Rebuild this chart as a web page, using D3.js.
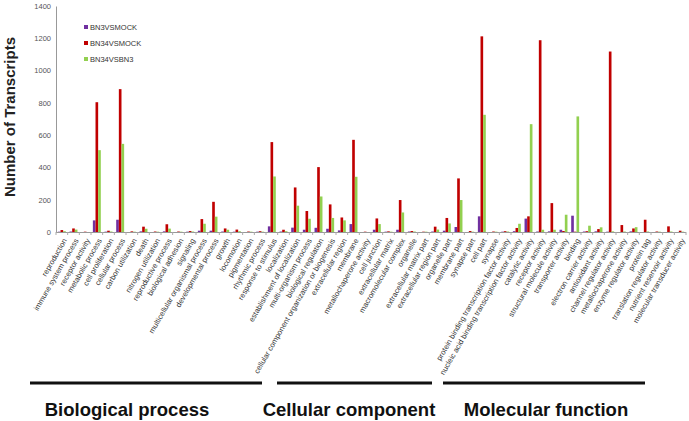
<!DOCTYPE html>
<html>
<head>
<meta charset="utf-8">
<script src="https://cdn.jsdelivr.net/npm/d3@7"></script>
<style>
  body { margin: 0; background: #fff; }
  svg { display: block; font-family: "Liberation Sans", Arial, sans-serif; }
</style>
</head>
<body>
<svg id="chart" width="689" height="421"></svg>
<script>
const categories = [
  'reproduction', 'immune system process', 'receptor activity', 'metabolic process',
  'cell proliferation', 'cellular process', 'carbon utilization', 'death',
  'nitrogen utilization', 'reproductive process', 'biological adhesion', 'signaling',
  'multicellular organismal process', 'developmental process', 'growth', 'locomotion',
  'pigmentation', 'rhythmic process', 'response to stimulus', 'localization',
  'establishment of localization', 'multi-organism process', 'biological regulation',
  'cellular component organization or biogenesis', 'extracellular region', 'membrane',
  'metallochaperone activity', 'cell junction', 'extracellular matrix',
  'macromolecular complex', 'organelle', 'extracellular matrix part',
  'extracellular region part', 'organelle part', 'membrane part', 'synapse part',
  'cell part', 'synapse', 'protein binding transcription factor activity',
  'nucleic acid binding transcription factor activity', 'catalytic activity',
  'receptor activity', 'structural molecule activity', 'transporter activity', 'binding',
  'electron carrier activity', 'antioxidant activity', 'channel regulator activity',
  'metallochaperone activity', 'enzyme regulator activity', 'protein tag',
  'translation regulator activity', 'nutrient reservoir activity',
  'molecular transducer activity'
];

const seriesNames = ['BN3VSMOCK', 'BN34VSMOCK', 'BN34VSBN3'];

const bn3VsMock = [2, 3, 0, 72, 2, 76, 0, 4, 0, 4, 0, 2, 8, 8, 3, 2, 0, 2, 35, 3, 27, 14, 26, 20,
  10, 49, 0, 14, 2, 14, 3, 0, 3, 8, 31, 0, 97, 0, 2, 5, 83, 3, 4, 14, 101, 3, 4, 2, 0, 4, 0, 0, 0, 0];

const bn34VsMock = [12, 22, 2, 804, 8, 885, 4, 33, 3, 48, 3, 6, 80, 187, 22, 15, 3, 5, 557, 14, 276,
  130, 402, 171, 90, 571, 2, 84, 4, 198, 6, 2, 33, 87, 332, 6, 1212, 3, 5, 25, 97, 1188, 179, 6, 2,
  5, 18, 1118, 43, 22, 76, 3, 35, 8];

const bn34VsBn3 = [5, 15, 0, 507, 3, 546, 2, 20, 2, 21, 2, 3, 51, 95, 14, 5, 2, 2, 344, 5, 163, 82,
  220, 87, 72, 342, 0, 49, 2, 121, 3, 2, 15, 53, 198, 2, 726, 2, 3, 51, 668, 14, 14, 107, 716, 39,
  29, 4, 3, 30, 3, 2, 3, 2];

const yTicks = [0, 200, 400, 600, 800, 1000, 1200, 1400];

const groupNames = ['Biological process', 'Cellular component', 'Molecular function'];

const colors = ['#7030a0', '#c00000', '#92d050'];

const svg = d3.select('#chart');
const mLeft = 56, mRight = 686, mTop = 6, mBottom = 232;

const rows = categories.map((c, i) => ({ i: i, name: c, vals: [bn3VsMock[i], bn34VsMock[i], bn34VsBn3[i]] }));

const x0 = d3.scaleBand()
  .domain(d3.range(categories.length))
  .range([mLeft, mRight])
  .paddingInner(0.32)
  .paddingOuter(0.16);

const x1 = d3.scaleBand()
  .domain([0, 1, 2])
  .range([0, x0.bandwidth()]);

const y = d3.scaleLinear().domain([0, 1400]).range([mBottom, mTop]);

// y axis
const yAxis = svg.append('g')
  .attr('transform', 'translate(' + mLeft + ',0)')
  .call(d3.axisLeft(y).tickValues(yTicks).tickFormat(d3.format('d')).tickSize(0).tickPadding(5));
yAxis.select('.domain').attr('stroke', '#999');
yAxis.selectAll('text').style('font-size', '7.5px').style('fill', '#555');

// bars
const g = svg.selectAll('g.cat')
  .data(rows)
  .enter().append('g')
  .attr('class', 'cat')
  .attr('transform', d => 'translate(' + x0(d.i) + ',0)');

g.selectAll('rect')
  .data(d => d.vals)
  .enter().append('rect')
  .attr('x', (d, k) => x1(k))
  .attr('width', x1.bandwidth())
  .attr('y', d => y(d))
  .attr('height', d => mBottom - y(d))
  .attr('fill', (d, k) => colors[k]);

// x axis line + ticks between categories
const step = x0.step();
svg.append('line')
  .attr('x1', mLeft).attr('x2', mRight)
  .attr('y1', mBottom + 0.5).attr('y2', mBottom + 0.5)
  .attr('stroke', '#999');
svg.selectAll('line.xt')
  .data(d3.range(categories.length + 1))
  .enter().append('line')
  .attr('class', 'xt')
  .attr('x1', i => mLeft + i * step).attr('x2', i => mLeft + i * step)
  .attr('y1', mBottom).attr('y2', mBottom + 3)
  .attr('stroke', '#aaa');

// category labels
svg.selectAll('text.cl')
  .data(rows)
  .enter().append('text')
  .attr('class', 'cl')
  .attr('transform', d => 'translate(' + (x0(d.i) + x0.bandwidth() / 2 + 3) + ',' + (mBottom + 7) + ') rotate(-60)')
  .attr('text-anchor', 'end')
  .attr('dy', '0.35em')
  .style('font-size', '7.6px')
  .style('fill', '#333')
  .text(d => d.name);

// y title
svg.append('text')
  .attr('transform', 'translate(15,' + ((mTop + mBottom) / 2 - 2) + ') rotate(-90)')
  .attr('text-anchor', 'middle')
  .style('font-size', '15px')
  .style('font-weight', 'bold')
  .style('fill', '#222')
  .text('Number of Transcripts');

// legend
const leg = svg.selectAll('g.leg')
  .data(seriesNames)
  .enter().append('g')
  .attr('class', 'leg')
  .attr('transform', (d, i) => 'translate(84,' + (25 + i * 16) + ')');
leg.append('rect').attr('width', 4).attr('height', 4).attr('fill', (d, i) => colors[i]);
leg.append('text')
  .attr('x', 6).attr('y', 2).attr('dy', '0.35em')
  .style('font-size', '7.5px').style('fill', '#333')
  .text(d => d);

// group brackets
const gx = [[30, 262], [277, 432], [443, 645]];
svg.selectAll('line.grp')
  .data(groupNames)
  .enter().append('line')
  .attr('class', 'grp')
  .attr('x1', (d, i) => gx[i][0]).attr('x2', (d, i) => gx[i][1])
  .attr('y1', 383).attr('y2', 383)
  .attr('stroke', '#111').attr('stroke-width', 3);
svg.selectAll('text.grp')
  .data(groupNames)
  .enter().append('text')
  .attr('class', 'grp')
  .attr('x', (d, i) => [127, 349, 546][i])
  .attr('y', 416)
  .attr('text-anchor', 'middle')
  .style('font-size', '18.5px')
  .style('font-weight', 'bold')
  .style('fill', '#111')
  .text(d => d);
</script>
</body>
</html>
